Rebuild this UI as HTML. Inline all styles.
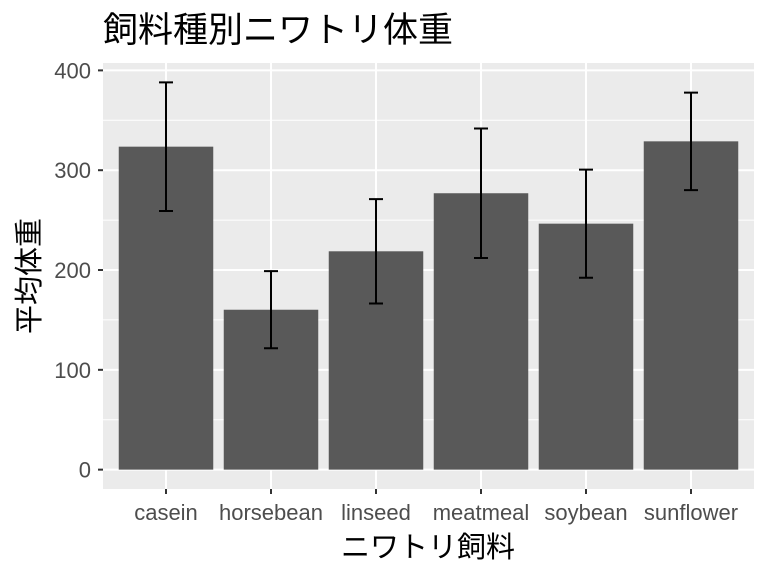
<!DOCTYPE html>
<html><head><meta charset="utf-8"><style>
body{margin:0;background:#fff;}
svg{display:block;font-family:"Liberation Sans","Noto Sans CJK JP",sans-serif;}
</style></head><body>
<svg id="chart" width="768" height="576">
<text x="103" y="42" font-size="35" fill="#000">飼料種別ニワトリ体重</text>
<rect x="103" y="63" width="651" height="426" fill="#ebebeb"/>
<g id="grid"></g><g id="bars"></g><g id="errs"></g><g id="axes"></g>
<text x="428" y="557" font-size="29" text-anchor="middle" fill="#000">ニワトリ飼料</text>
<text transform="translate(39,276) rotate(-90)" font-size="29" text-anchor="middle" fill="#000">平均体重</text>
</svg>
<script>
const categories=["casein","horsebean","linseed","meatmeal","soybean","sunflower"];
const means=[323.58,160.2,218.75,276.91,246.43,328.92];
const sds=[64.43,38.63,52.24,64.9,54.13,48.84];
const yTicks=[0,100,200,300,400];
const yMinor=[50,150,250,350];
const NS="http://www.w3.org/2000/svg";
const yMin=-19.4,yMax=407.4,pTop=63,pBot=489;
const y=v=>pBot-(v-yMin)/(yMax-yMin)*(pBot-pTop);
const step=651/(categories.length+0.2);
const x=i=>103+step*(0.6+i);
function mk(p,t,a){const e=document.createElementNS(NS,t);for(const k in a)e.setAttribute(k,a[k]);document.getElementById(p).appendChild(e);return e;}
yMinor.forEach(v=>{const e=mk("grid","line",{x1:103,x2:754,y1:y(v),y2:y(v),stroke:"#fff","stroke-width":1});

});
yTicks.forEach(v=>{const e=mk("grid","line",{x1:103,x2:754,y1:y(v),y2:y(v),stroke:"#fff","stroke-width":2});


const t=mk("axes","line",{x1:98,x2:103,y1:y(v),y2:y(v),stroke:"#333","stroke-width":2});


const l=mk("axes","text",{x:91,y:y(v)+8,"font-size":22,"text-anchor":"end",fill:"#4d4d4d"});l.textContent=v;

});
categories.forEach((c,i)=>{const cx=x(i);
const g=mk("grid","line",{x1:cx,x2:cx,y1:pTop,y2:pBot,stroke:"#fff","stroke-width":2});


const w=step*0.9;
const b=mk("bars","rect",{x:cx-w/2,y:y(means[i]),width:w,height:y(0)-y(means[i]),fill:"#595959"});


const lo=y(means[i]-sds[i]),hi=y(means[i]+sds[i]);
const eg=mk("errs","path",{d:`M${cx-7},${hi}H${cx+7}M${cx},${hi}V${lo}M${cx-7},${lo}H${cx+7}`,stroke:"#000","stroke-width":2,fill:"none"});


const t=mk("axes","line",{x1:cx,x2:cx,y1:pBot,y2:pBot+5,stroke:"#333","stroke-width":2});


const l=mk("axes","text",{x:cx,y:520,"font-size":22,"text-anchor":"middle",fill:"#4d4d4d"});l.textContent=c;

});
</script>
</body></html>
